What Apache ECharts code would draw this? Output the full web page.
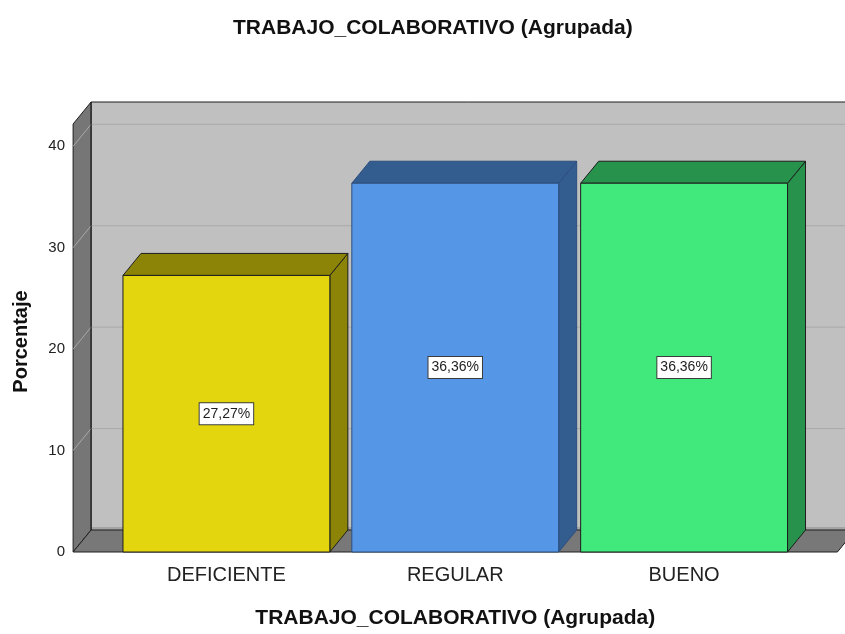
<!DOCTYPE html>
<html>
<head>
<meta charset="utf-8">
<script src="https://cdn.jsdelivr.net/npm/echarts@6/dist/echarts.min.js"></script>
<style>
    html, body { margin: 0; padding: 0; background: #ffffff; }
    #chart { width: 845px; height: 634px; }
</style>
</head>
<body>
<div id="chart"></div>
<script>
const categories = ['DEFICIENTE', 'REGULAR', 'BUENO'];
const percentages = [27.27, 36.36, 36.36];
const valueLabels = ['27,27%', '36,36%', '36,36%'];
const yTicks = [0, 10, 20, 30, 40];

const frontColors = ['#e3d60f', '#5596e6', '#41e97c'];
const sideColors = ['#8c8407', '#335c8f', '#26924c'];
const edgeColors = ['#1e1e1e', '#2d4f7d', '#1e1e1e'];

// fake 3D depth offset, in pixels
const DX = 18;
const DY = -22;
const Y_MAX = 42.2;
const WALL_PAD = 0.17; // extra floor on both sides, in category bands
const FONT = '"Liberation Sans", Arial, sans-serif';

function renderFrame(params, api) {
    const band = api.size([1, 0])[0];
    const x0 = api.coord([0, 0])[0] - band * (0.5 + WALL_PAD);
    const x1 = api.coord([categories.length - 1, 0])[0] + band * (0.5 + WALL_PAD);
    const yB = api.coord([0, 0])[1];
    const yT = api.coord([0, Y_MAX])[1];

    const children = [];
    // back wall
    children.push({
        type: 'polygon',
        shape: { points: [[x0 + DX, yT + DY], [x1 + DX, yT + DY], [x1 + DX, yB + DY], [x0 + DX, yB + DY]] },
        style: { fill: '#c0c0c0' }
    });
    // soft shadow where the back wall meets the floor
    children.push({
        type: 'line',
        shape: { x1: x0 + DX, y1: yB + DY - 1.5, x2: x1 + DX, y2: yB + DY - 1.5 },
        style: { stroke: '#a4a4a4', lineWidth: 3 }
    });
    // left wall
    children.push({
        type: 'polygon',
        shape: { points: [[x0, yB], [x0, yT], [x0 + DX, yT + DY], [x0 + DX, yB + DY]] },
        style: { fill: '#767676', stroke: '#1e1e1e', lineWidth: 1 }
    });
    // floor
    children.push({
        type: 'polygon',
        shape: { points: [[x0, yB], [x1, yB], [x1 + DX, yB + DY], [x0 + DX, yB + DY]] },
        style: { fill: '#787878', stroke: '#1e1e1e', lineWidth: 1 }
    });
    // grid lines over left and back walls
    yTicks.forEach((v) => {
        if (v === 0) return;
        const y = api.coord([0, v])[1];
        children.push({
            type: 'polyline',
            shape: { points: [[x0, y], [x0 + DX, y + DY], [x1 + DX, y + DY]] },
            style: { stroke: '#a9a9a9', lineWidth: 1, fill: null }
        });
    });
    // back wall top edge
    children.push({
        type: 'polyline',
        shape: { points: [[x0 + DX, yB + DY], [x0 + DX, yT + DY], [x1 + DX, yT + DY]] },
        style: { stroke: '#1e1e1e', lineWidth: 1, fill: null }
    });
    return { type: 'group', children: children };
}

function renderBar(params, api) {
    const i = api.value(0);
    const v = api.value(1);
    const band = api.size([1, 0])[0];
    const hw = band * 0.452;
    const top = api.coord([i, v]);
    const base = api.coord([i, 0]);
    const xl = top[0] - hw;
    const xr = top[0] + hw;
    const yt = top[1];
    const yb = base[1];
    const edge = { stroke: edgeColors[i], lineWidth: 1 };

    return {
        type: 'group',
        children: [
            {
                type: 'polygon',
                shape: { points: [[xr, yt], [xr + DX, yt + DY], [xr + DX, yb + DY], [xr, yb]] },
                style: Object.assign({ fill: sideColors[i] }, edge)
            },
            {
                type: 'polygon',
                shape: { points: [[xl, yt], [xl + DX, yt + DY], [xr + DX, yt + DY], [xr, yt]] },
                style: Object.assign({ fill: sideColors[i] }, edge)
            },
            {
                type: 'rect',
                shape: { x: xl, y: yt, width: xr - xl, height: yb - yt },
                style: Object.assign({ fill: frontColors[i] }, edge)
            },
            {
                type: 'text',
                x: top[0],
                y: (yt + yb) / 2,
                style: {
                    text: valueLabels[i],
                    fill: '#1e1e1e',
                    font: '14px ' + FONT,
                    align: 'center',
                    verticalAlign: 'middle',
                    backgroundColor: '#ffffff',
                    borderColor: '#3c3c3c',
                    borderWidth: 1,
                    padding: [4, 3, 3, 3]
                }
            }
        ]
    };
}

const chart = echarts.init(document.getElementById('chart'));

chart.setOption({
    backgroundColor: '#ffffff',
    animation: false,
    title: {
        text: 'TRABAJO_COLABORATIVO (Agrupada)',
        left: 228,
        top: 13,
        textStyle: { fontFamily: FONT, fontSize: 21, fontWeight: 'bold', color: '#111' }
    },
    grid: { left: 112, right: 46.5, top: 124, bottom: 77 },
    xAxis: {
        type: 'category',
        data: categories,
        axisLine: { show: false },
        axisTick: { show: false },
        axisLabel: { fontFamily: FONT, fontSize: 20, color: '#222', margin: 13 },
        name: 'TRABAJO_COLABORATIVO (Agrupada)',
        nameLocation: 'middle',
        nameGap: 56,
        nameTextStyle: { fontFamily: FONT, fontSize: 21, fontWeight: 'bold', color: '#111' }
    },
    yAxis: {
        type: 'value',
        min: 0,
        max: Y_MAX,
        interval: 10,
        axisLine: { show: false },
        axisTick: { show: false },
        splitLine: { show: false },
        axisLabel: {
            fontFamily: FONT, fontSize: 15, color: '#222', margin: 47,
            padding: [8, 0, 0, 0],
            showMaxLabel: false
        },
        name: 'Porcentaje',
        nameLocation: 'middle',
        nameGap: 81,
        nameTextStyle: {
            fontFamily: FONT, fontSize: 20, fontWeight: 'bold', color: '#111',
            padding: [0, 7, 0, 0]
        }
    },
    series: [
        {
            type: 'custom',
            renderItem: renderFrame,
            data: [[0, 0]],
            clip: false,
            silent: true,
            z: 1
        },
        {
            type: 'custom',
            renderItem: renderBar,
            data: categories.map((c, i) => [i, percentages[i]]),
            clip: false,
            z: 2
        }
    ]
});
</script>
</body>
</html>
